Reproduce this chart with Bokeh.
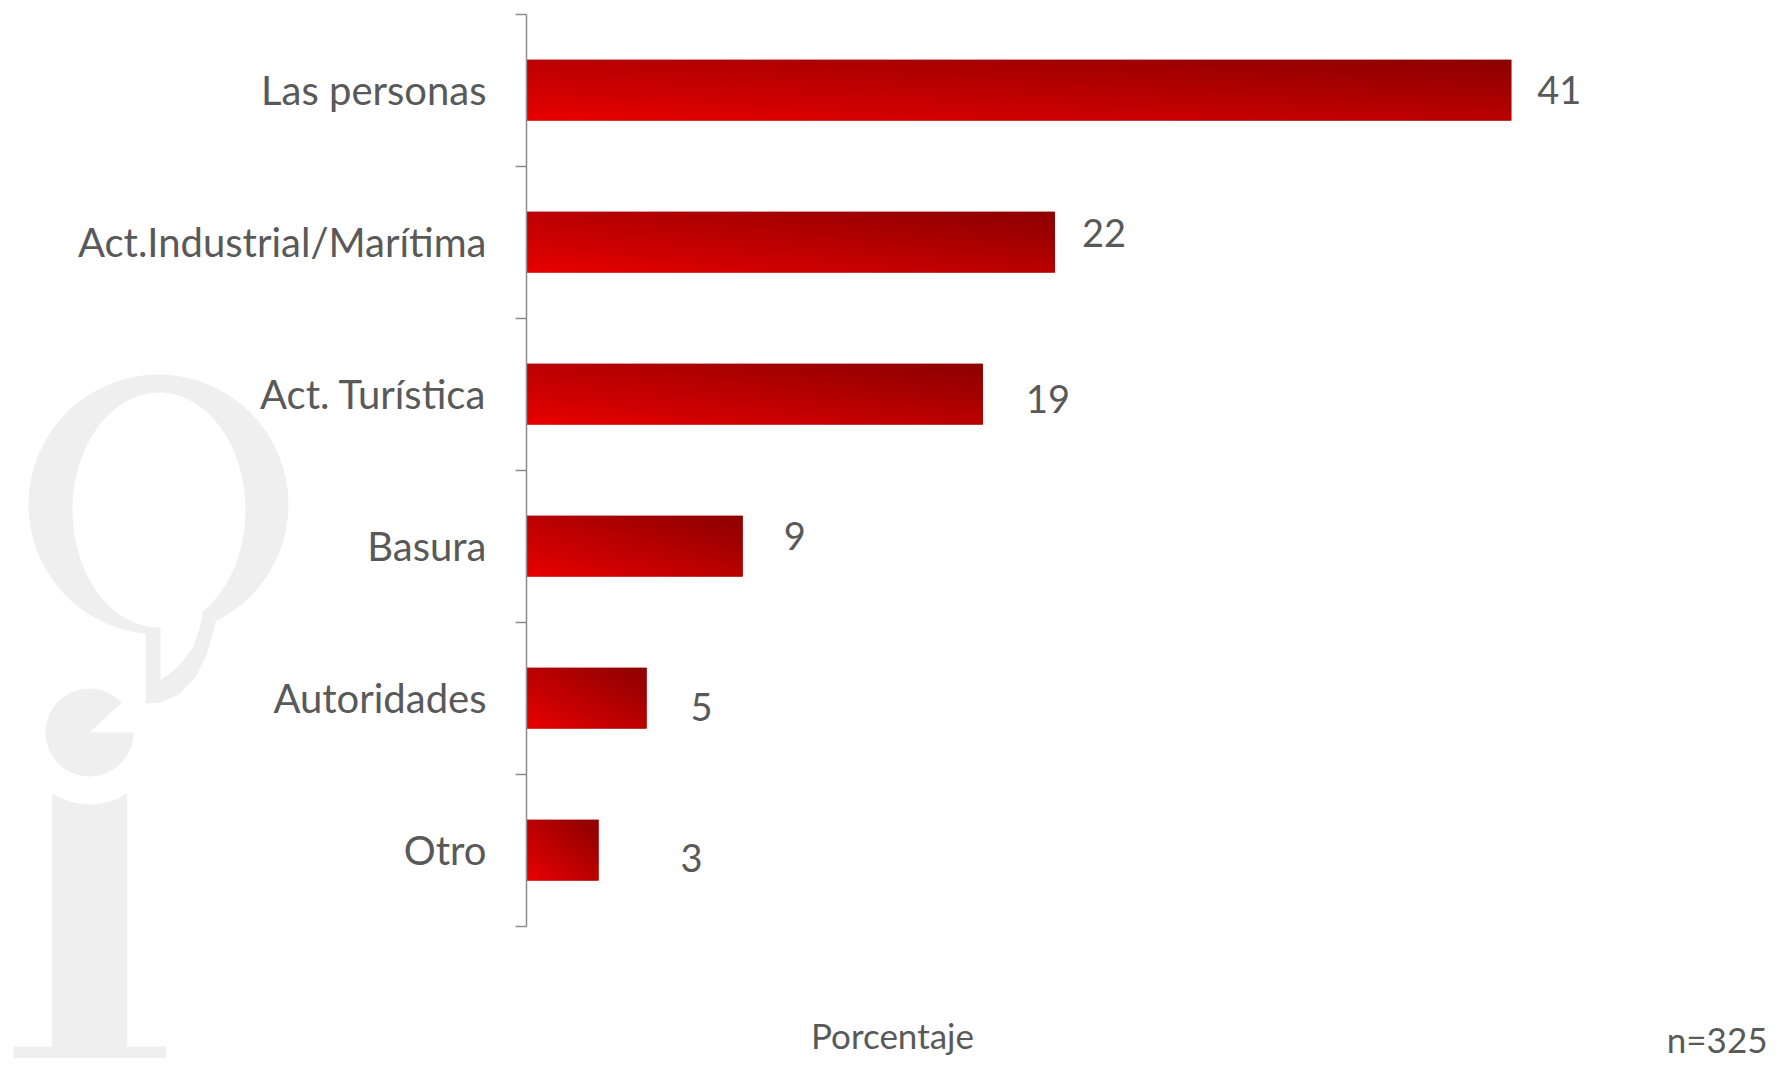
import numpy as np
from bokeh.plotting import figure
from bokeh.models import Range1d, FixedTicker, Label
from bokeh.core.properties import value
from bokeh.embed import file_html
from bokeh.resources import INLINE

# ---------------- data ----------------
categories = ["Las personas", "Act.Industrial/Marítima", "Act. Turística",
              "Basura", "Autoridades", "Otro"]
values = [41, 22, 19, 9, 5, 3]
value_labels = ["41", "22", "19", "9", "5", "3"]
axis_title = "Porcentaje"
sample_note = "n=325"

# ---------------- styling ----------------
label_dx = [26, 27, 43, 41, 44, 82]     # pixel nudges of the value labels
label_dy = [0, -9, 5, -10, 9, 8]
TEXT = "#595959"
AXIS = "#8c8c8c"
LOGO = "#efefef"
FONT = "Lato"

W, H = 1769, 1058
AXIS_PX = 526.0     # frame pixel where value 0 sits
TOP_PX = 13.7       # frame pixel of the top band edge
BAND_PX = 152.0     # pixels per category band
UNIT_PX = 24.02     # pixels per percent

n = len(categories)
ypos = [n - 1 - i for i in range(n)]
x0 = -AXIS_PX / UNIT_PX
x1 = x0 + W / UNIT_PX
y1 = (n - 0.5) + TOP_PX / BAND_PX
y0 = y1 - H / BAND_PX

p = figure(width=W, height=H, x_range=Range1d(x0, x1), y_range=Range1d(y0, y1),
           x_axis_location=None, y_axis_location="left",
           output_backend="svg", toolbar_location=None, min_border=0)
p.outline_line_color = None
p.grid.visible = False
p.background_fill_color = "white"
p.border_fill_color = "white"


# ---------------- watermark logo (decoration, pixel geometry) ----------------
def dx(px):
    return x0 + px / UNIT_PX


def dy(py):
    return y1 - py / BAND_PX


def patch(pts, color):
    p.patch([dx(a) for a, b in pts], [dy(b) for a, b in pts],
            fill_color=color, line_color=None)


p.ellipse(x=dx(158), y=dy(504), width=260 / UNIT_PX, height=260 / BAND_PX,
          fill_color=LOGO, line_color=None)
patch([(145, 612), (145, 703), (160, 702), (178, 694), (195, 677), (206, 655),
       (213, 630), (218, 612), (205, 598)], LOGO)
p.ellipse(x=dx(158.5), y=dy(509.5), width=173 / UNIT_PX, height=235 / BAND_PX,
          fill_color="white", line_color=None)
patch([(160, 615), (160, 680), (177, 667), (192, 648), (199, 628), (203, 607),
       (195, 600)], "white")
p.wedge(x=dx(89), y=dy(732), radius=44 / UNIT_PX,
        start_angle=np.radians(43), end_angle=np.radians(360),
        fill_color=LOGO, line_color=None)
arc_x = np.linspace(51.7, 126.7, 15)
arc_y = 793 + 11 * (1 - ((arc_x - 89.2) / 37.5) ** 2)
stem = list(zip(arc_x, arc_y)) + [(126.7, 1062), (51.7, 1062)]
patch(stem, LOGO)
patch([(13, 1046), (166, 1046), (166, 1060), (13, 1060)], LOGO)


# ---------------- bars with diagonal gradient ----------------
def gradient(nx=320, ny=40, c0=232, c1=139):
    u = np.linspace(0, 1, nx)[None, :]
    v = np.linspace(0, 1, ny)[:, None]
    t = (u + v) / 2.0
    img = np.zeros((ny, nx), dtype=np.uint32)
    view = img.view(dtype=np.uint8).reshape((ny, nx, 4))
    view[..., 0] = np.round(c0 + (c1 - c0) * t).astype(np.uint8)
    view[..., 1] = 0
    view[..., 2] = 0
    view[..., 3] = 255
    return img


BAR_H = 0.4
p.hbar(y=ypos, left=0, right=values, height=BAR_H, fill_color="#b90000", line_color=None)
grad = gradient()
p.image_rgba(image=[grad] * n, x=[0] * n, y=[yy - BAR_H / 2 for yy in ypos],
             dw=values, dh=[BAR_H] * n)

# ---------------- value labels ----------------
p.text(x=values, y=ypos, text=value_labels, x_offset=label_dx, y_offset=label_dy,
       text_align="left", text_baseline="middle", text_font=value(FONT),
       text_font_size="38px", text_color=TEXT)

# ---------------- category axis ----------------
ax = p.yaxis[0]
ax.fixed_location = 0
ax.bounds = (-0.5, n - 0.5)
ax.ticker = FixedTicker(ticks=ypos, minor_ticks=[k - 0.5 for k in range(n + 1)])
ax.major_label_overrides = {yy: c for yy, c in zip(ypos, categories)}
ax.major_tick_out = 0
ax.major_tick_in = 0
ax.minor_tick_out = 11
ax.minor_tick_in = 0
ax.minor_tick_line_color = AXIS
ax.minor_tick_line_width = 1.5
ax.axis_line_color = AXIS
ax.axis_line_width = 1.5
ax.major_label_text_font = FONT
ax.major_label_text_font_size = "40px"
ax.major_label_text_color = TEXT
ax.major_label_standoff = 29

# ---------------- footer texts ----------------
p.add_layout(Label(x=892, y=24, x_units="screen", y_units="screen", text=axis_title,
                   text_align="center", text_baseline="middle", text_font=FONT,
                   text_font_size="35px", text_color=TEXT))
p.add_layout(Label(x=W - 2, y=20, x_units="screen", y_units="screen", text=sample_note,
                   text_align="right", text_baseline="middle", text_font=FONT,
                   text_font_size="35px", text_color=TEXT))

open("out.html", "w").write(file_html(p, INLINE))
